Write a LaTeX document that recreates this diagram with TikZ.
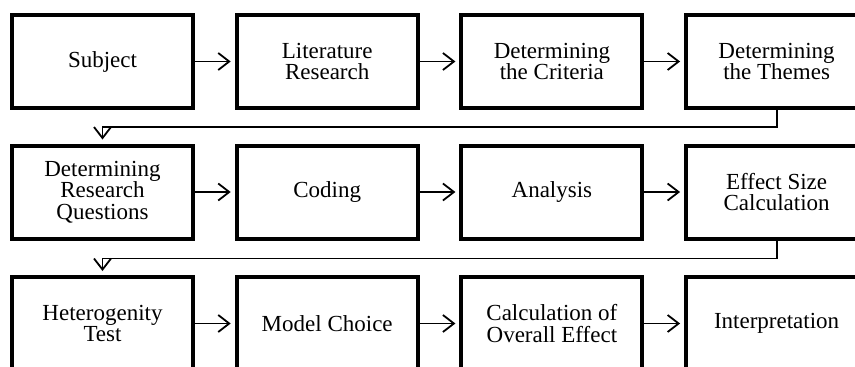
\documentclass[tikz,border=0pt]{standalone}
\usepackage{fontspec}
\setmainfont{Liberation Serif}
\usetikzlibrary{arrows.meta, positioning}
\tikzstyle{process} = [rectangle, minimum width=181pt, minimum height=93pt, align=center, draw=black, line width=4pt, font=\fontsize{23pt}{21.5pt}\selectfont]
\tikzstyle{arrow} = [line width=1.8pt,-{Straight Barb[length=11pt,width=17pt,line width=1.8pt]}, shorten >=4pt]

\begin{document}
\begin{tikzpicture}[node distance=224.7pt]
\clip (0,0) rectangle (855pt,-367pt);
\node (subject) [process] at (102.5pt,-61.5pt) {Subject};
\node (literature) [process, right of=subject] {Literature\\Research};
\node (criteria) [process, right of=literature] {Determining\\the Criteria};
\node (themes) [process, right of=criteria] {Determining\\the Themes};

\node (questions) [process, node distance=130.5pt, below of=subject] {Determining\\Research\\Questions};
\node (coding) [process, right of=questions] {Coding};
\node (analysis) [process, right of=coding] {Analysis};
\node (effect) [process, right of=analysis] {Effect Size\\Calculation};

\node (hetero) [process, node distance=131.5pt, below of=questions] {Heterogenity\\Test};
\node (model) [process, right of=hetero] {Model Choice};
\node (overall) [process, right of=model] {Calculation of\\Overall Effect};
\node (interp) [process, right of=overall] {Interpretation};

\draw [arrow] (subject) -- (literature);
\draw [arrow] (literature) -- (criteria);
\draw [arrow] (criteria) -- (themes);

\draw [arrow] (themes.south) -- ++(0pt,-17pt) -| (questions.north);

\draw [arrow] (questions) -- (coding);
\draw [arrow] (coding) -- (analysis);
\draw [arrow] (analysis) -- (effect);

\draw [arrow] (effect.south) -- ++(0pt,-18pt) -| (hetero.north);

\draw [arrow] (hetero) -- (model);
\draw [arrow] (model) -- (overall);
\draw [arrow] (overall) -- (interp);

\end{tikzpicture}
\end{document}
